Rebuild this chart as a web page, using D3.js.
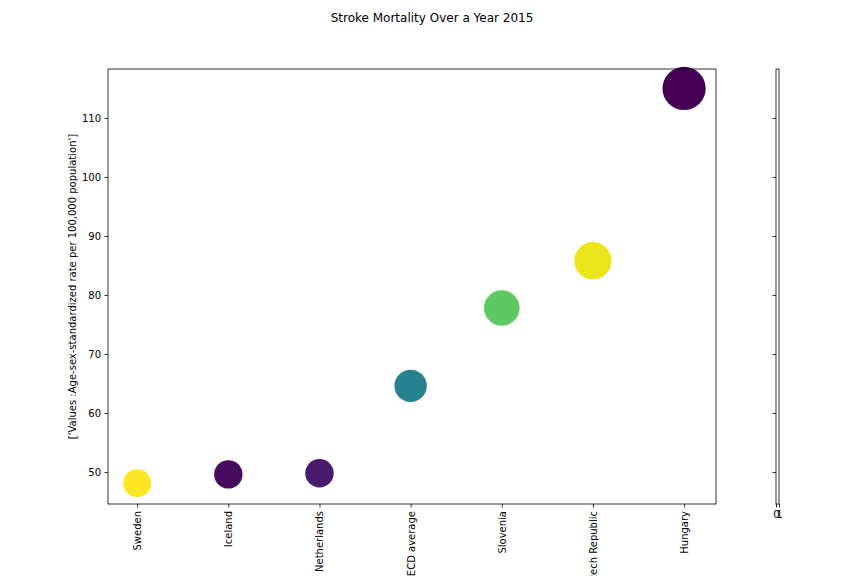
<!DOCTYPE html>
<html><head><meta charset="utf-8">
<script src="https://cdn.jsdelivr.net/npm/d3@7"></script>
<style>body{margin:0;background:#fff}svg{display:block}text{font-family:"DejaVu Sans",sans-serif}</style>
</head><body><svg id="c" width="864" height="576"></svg>
<script>
const countries = ["Sweden","Iceland","Netherlands","OECD average","Slovenia","Czech Republic","Hungary"];
const values = [48.1, 49.6, 49.8, 64.6, 77.8, 85.8, 115.0];
const colorValues = [1.0, 0.03, 0.07, 0.44, 0.75, 0.97, 0.0];
const yTicks = [50, 60, 70, 80, 90, 100, 110];
const cbTicks = [0, 1];
const title = "Stroke Mortality Over a Year 2015";
const yLabel = "['Values :Age-sex-standardized rate per 100,000 population']";

const svg = d3.select("#c");
const L = 108, R = 716, T = 69, B = 504;
const x = d3.scaleLinear().domain([-0.32, 6.35]).range([L, R]);
const y = d3.scaleLinear().domain([44.58, 118.3]).range([B, T]);
const r = d3.scaleSqrt().domain([0, 115]).range([0, 21.6]);

svg.append("text").attr("x", 432).attr("y", 22).attr("text-anchor", "middle")
  .attr("font-size", 12).text(title);

const g = svg.append("g");
g.selectAll("circle").data(countries).join("circle")
  .attr("cx", (d, i) => x(i)).attr("cy", (d, i) => y(values[i]))
  .attr("r", (d, i) => r(values[i]))
  .attr("fill", (d, i) => d3.interpolateViridis(colorValues[i]));

const ya = svg.append("g").attr("transform", `translate(${L},0)`)
  .call(d3.axisLeft(y).tickValues(yTicks).tickSize(3.5).tickPadding(3.5));
const xa = svg.append("g").attr("transform", `translate(0,${B})`)
  .call(d3.axisBottom(x).tickValues(d3.range(countries.length)).tickFormat(i => countries[i]).tickSize(3.5).tickPadding(3.5));
xa.selectAll("text").attr("transform", "rotate(-90)").attr("text-anchor", "end")
  .attr("x", -7).attr("y", 0).attr("dy", "0.35em");
[ya, xa].forEach(a => {
  a.select(".domain").remove();
  a.selectAll("text").attr("font-size", 10).attr("fill", "#000").attr("font-family", "DejaVu Sans");
  a.selectAll("line").attr("stroke", "#000").attr("stroke-width", 0.8);
});
svg.append("rect").attr("x", L).attr("y", T).attr("width", R - L).attr("height", B - T)
  .attr("fill", "none").attr("stroke", "#000").attr("stroke-width", 0.8);

svg.append("text").attr("transform", `translate(76,${(T + B) / 2}) rotate(-90)`)
  .attr("text-anchor", "middle").attr("font-size", 10).text(yLabel);

// colorbar
const cbx = d3.scaleLinear().domain([0, 1]).range([776, 779]);
const cb = svg.append("g");
cb.append("g").attr("transform", `translate(776,0)`)
  .call(d3.axisLeft(y).tickValues(yTicks).tickSize(3.5).tickFormat(""))
  .call(a => { a.select(".domain").remove(); a.selectAll("line").attr("stroke", "#000").attr("stroke-width", 0.8); });
const cba = cb.append("g").attr("transform", `translate(0,${B})`)
  .call(d3.axisBottom(cbx).tickValues(cbTicks).tickFormat(d3.format("d")).tickSize(3.5).tickPadding(3.5));
cba.select(".domain").remove();
cba.selectAll("line").attr("stroke", "#000").attr("stroke-width", 0.8);
cba.selectAll("text").attr("font-size", 10).attr("fill", "#000").attr("font-family", "DejaVu Sans");
cb.append("rect").attr("x", 776).attr("y", T).attr("width", 3).attr("height", B - T)
  .attr("fill", "none").attr("stroke", "#000").attr("stroke-width", 0.8);
</script></body></html>
